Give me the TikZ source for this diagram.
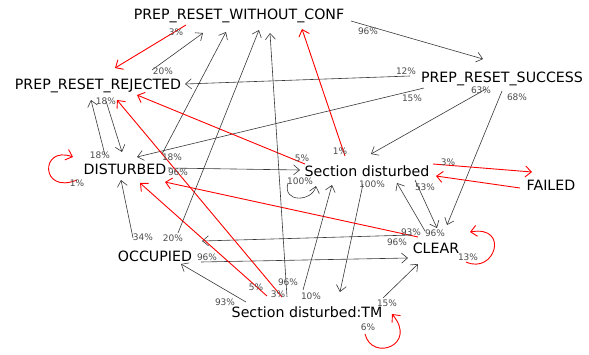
\documentclass[tikz,border=0pt]{standalone}
\usepackage{fontspec}
\setmainfont{DejaVu Sans}
\usetikzlibrary{arrows.meta,calc}
\begin{document}
\begin{tikzpicture}[x=1pt,y=-1pt,
  st/.style={font=\fontsize{14.2}{16}\selectfont, inner sep=0pt, text height=10.2pt, text depth=0pt, text=black},
  lab/.style={font=\fontsize{9}{10}\selectfont, inner sep=0pt, text height=6.6pt, text depth=0pt, text=black!70},
  blk/.style={draw=black!78, line width=0.6pt, -{Straight Barb[length=6pt,width=10pt]}},
  rdl/.style={draw=red, line width=0.9pt, -{Straight Barb[length=6pt,width=11pt]}}
]
\useasboundingbox (0,0) rectangle (589,354);
% states
\node[st] (W)  at (239,14)  {PREP\_RESET\_WITHOUT\_CONF};
\node[st] (S)  at (502,77)  {PREP\_RESET\_SUCCESS};
\node[st] (R)  at (98,84)   {PREP\_RESET\_REJECTED};
\node[st] (D)  at (125,169) {DISTURBED};
\node[st] (SD) at (367,171) {Section disturbed};
\node[st] (F)  at (551,185) {FAILED};
\node[st] (C)  at (436,248) {CLEAR};
\node[st] (O)  at (155,256) {OCCUPIED};
\node[st] (TM) at (307,312) {Section disturbed:TM};
% transitions
\draw[blk] ($(R)+(54,-14)$) -- ($(W)+(-36,19)$);
\draw[rdl] ($(W)+(-53,11)$) -- ($(R)+(17,-16)$);
\draw[blk] ($(W)+(112,7)$) -- ($(S)+(-19,-18)$);
\draw[blk] ($(S)+(-92,-1)$) -- ($(R)+(87,0)$);
\draw[blk] ($(S)+(-78,11)$) -- ($(D)+(12,-12)$);
\draw[blk] ($(S)+(-16,12)$) -- ($(SD)+(4,-17)$);
\draw[blk] ($(S)+(0,14)$) -- ($(C)+(11,-23)$);
\draw[blk] ($(R)+(8,17)$) -- ($(D)+(-3,-17)$);
\draw[blk] ($(D)+(-20,-14)$) -- ($(R)+(-7,16)$);
\draw[rdl] ($(D)+(-48,11)$) .. controls ($(D)+(-85,26)$) and ($(D)+(-85,-24)$) .. ($(D)+(-52,-12)$);
\draw[blk] ($(D)+(37,-15)$) -- ($(W)+(-13,18)$);
\draw[blk] ($(D)+(43,-1)$) -- ($(SD)+(-67,-1)$);
\draw[blk] ($(SD)+(-79,12)$) .. controls ($(SD)+(-85,32)$) and ($(SD)+(-55,31)$) .. ($(SD)+(-51,15)$);
\draw[rdl] ($(SD)+(-22,-15)$) -- ($(W)+(63,15)$);
\draw[rdl] ($(SD)+(-62,-7)$) -- ($(R)+(39,11)$);
\draw[rdl] ($(SD)+(66,-7)$) -- ($(F)+(-19,-13)$);
\draw[rdl] ($(F)+(-31,3)$) -- ($(SD)+(69,5)$);
\draw[blk] ($(SD)+(-4,13)$) -- ($(TM)+(33,-20)$);
\draw[blk] ($(SD)+(48,9)$) -- ($(C)+(1,-20)$);
\draw[blk] ($(C)+(-11,-17)$) -- ($(SD)+(30,12)$);
\draw[rdl] ($(C)+(-18,-11)$) -- ($(D)+(40,13)$);
\draw[blk] ($(C)+(-24,-13)$) -- ($(O)+(47,-15)$);
\draw[blk] ($(O)+(46,6)$) -- ($(C)+(-28,10)$);
\draw[rdl] ($(C)+(30,14)$) .. controls ($(C)+(59,27)$) and ($(C)+(74,-23)$) .. ($(C)+(34,-16)$);
\draw[rdl] ($(TM)+(58,22)$) .. controls ($(TM)+(65,50)$) and ($(TM)+(111,33)$) .. ($(TM)+(85,2)$);
\draw[blk] ($(TM)+(76,-14)$) -- ($(C)+(-18,16)$);
\draw[blk] ($(TM)+(-61,-10)$) -- ($(O)+(26,8)$);
\draw[rdl] ($(TM)+(-40,-16)$) -- ($(D)+(15,14)$);
\draw[rdl] ($(TM)+(-25,-15)$) -- ($(R)+(19,16)$);
\draw[blk] ($(TM)+(-20,-15)$) -- ($(W)+(31,19)$);
\draw[blk] ($(TM)+(-4,-22)$) -- ($(SD)+(-35,14)$);
\draw[blk] ($(O)+(-22,-18)$) -- ($(D)+(-4,11)$);
\draw[blk] ($(O)+(23,-23)$) -- ($(W)+(20,16)$);
% probabilities
\node[lab] (l1)  at (163,71)  {20\%};
\node[lab] (l2)  at (176,32)  {3\%};
\node[lab] (l3)  at (368,31)  {96\%};
\node[lab] (l4)  at (406,71)  {12\%};
\node[lab] (l5)  at (412,98)  {15\%};
\node[lab] (l6)  at (481,90)  {63\%};
\node[lab] (l7)  at (517,97)  {68\%};
\node[lab] (l8)  at (106,101) {18\%};
\node[lab] (l9)  at (100,155) {18\%};
\node[lab] (l10) at (77,183)  {1\%};
\node[lab] (l11) at (172,157) {18\%};
\node[lab] (l12) at (178,172) {96\%};
\node[lab] (l13) at (300,181) {100\%};
\node[lab] (l14) at (340,151) {1\%};
\node[lab] (l15) at (302,158) {5\%};
\node[lab] (l16) at (448,162) {3\%};
\node[lab] (l18) at (372,184) {100\%};
\node[lab] (l19) at (425,187) {53\%};
\node[lab] (l20) at (435,233) {96\%};
\node[lab] (l21) at (411,232) {93\%};
\node[lab] (l22) at (397,242) {96\%};
\node[lab] (l23) at (207,257) {96\%};
\node[lab] (l24) at (468,257) {13\%};
\node[lab] (l25) at (368,327) {6\%};
\node[lab] (l26) at (387,303) {15\%};
\node[lab] (l27) at (225,302) {93\%};
\node[lab] (l28) at (256,287) {5\%};
\node[lab] (l29) at (278,294) {3\%};
\node[lab] (l30) at (288,282) {96\%};
\node[lab] (l31) at (311,296) {10\%};
\node[lab] (l32) at (143,237) {34\%};
\node[lab] (l33) at (173,238) {20\%};
\end{tikzpicture}
\end{document}
